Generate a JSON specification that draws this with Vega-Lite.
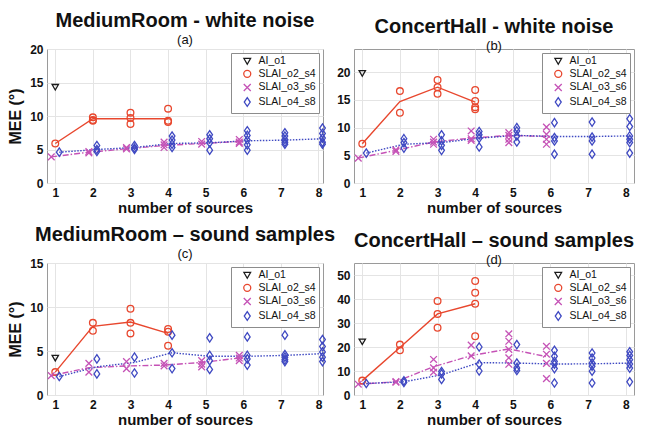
{
  "$schema": "https://vega.github.io/schema/vega-lite/v6.json",
  "background": "white",
  "padding": {"left": 7, "top": 10, "right": 5, "bottom": 2},
  "datasets": {
    "pts": [
      {"p":"a","s":"AI_o1","n":1,"v":14.3,"k":"pt"},
      {"p":"a","s":"SLAI_o2_s4","n":1,"v":5.9,"k":"pt"},
      {"p":"a","s":"SLAI_o2_s4","n":2,"v":9.8,"k":"pt"},
      {"p":"a","s":"SLAI_o2_s4","n":2,"v":9.4,"k":"pt"},
      {"p":"a","s":"SLAI_o2_s4","n":2,"v":9.3,"k":"pt"},
      {"p":"a","s":"SLAI_o2_s4","n":3,"v":10.5,"k":"pt"},
      {"p":"a","s":"SLAI_o2_s4","n":3,"v":9.7,"k":"pt"},
      {"p":"a","s":"SLAI_o2_s4","n":3,"v":8.8,"k":"pt"},
      {"p":"a","s":"SLAI_o2_s4","n":4,"v":11.1,"k":"pt"},
      {"p":"a","s":"SLAI_o2_s4","n":4,"v":9.3,"k":"pt"},
      {"p":"a","s":"SLAI_o2_s4","n":4,"v":9.1,"k":"pt"},
      {"p":"a","s":"SLAI_o2_s4","n":1,"v":5.9,"k":"mean"},
      {"p":"a","s":"SLAI_o2_s4","n":2,"v":9.6,"k":"mean"},
      {"p":"a","s":"SLAI_o2_s4","n":3,"v":9.6,"k":"mean"},
      {"p":"a","s":"SLAI_o2_s4","n":4,"v":9.6,"k":"mean"},
      {"p":"a","s":"SLAI_o3_s6","n":1,"v":3.9,"k":"pt"},
      {"p":"a","s":"SLAI_o3_s6","n":2,"v":4.7,"k":"pt"},
      {"p":"a","s":"SLAI_o3_s6","n":2,"v":4.5,"k":"pt"},
      {"p":"a","s":"SLAI_o3_s6","n":3,"v":5.3,"k":"pt"},
      {"p":"a","s":"SLAI_o3_s6","n":3,"v":5.1,"k":"pt"},
      {"p":"a","s":"SLAI_o3_s6","n":4,"v":6.1,"k":"pt"},
      {"p":"a","s":"SLAI_o3_s6","n":4,"v":5.7,"k":"pt"},
      {"p":"a","s":"SLAI_o3_s6","n":4,"v":5.3,"k":"pt"},
      {"p":"a","s":"SLAI_o3_s6","n":5,"v":6.2,"k":"pt"},
      {"p":"a","s":"SLAI_o3_s6","n":5,"v":5.8,"k":"pt"},
      {"p":"a","s":"SLAI_o3_s6","n":6,"v":6.5,"k":"pt"},
      {"p":"a","s":"SLAI_o3_s6","n":6,"v":6.1,"k":"pt"},
      {"p":"a","s":"SLAI_o3_s6","n":6,"v":5.9,"k":"pt"},
      {"p":"a","s":"SLAI_o3_s6","n":1,"v":3.9,"k":"mean"},
      {"p":"a","s":"SLAI_o3_s6","n":2,"v":4.6,"k":"mean"},
      {"p":"a","s":"SLAI_o3_s6","n":3,"v":5.1,"k":"mean"},
      {"p":"a","s":"SLAI_o3_s6","n":4,"v":5.6,"k":"mean"},
      {"p":"a","s":"SLAI_o3_s6","n":5,"v":5.9,"k":"mean"},
      {"p":"a","s":"SLAI_o3_s6","n":6,"v":6.2,"k":"mean"},
      {"p":"a","s":"SLAI_o4_s8","n":1,"v":4.6,"k":"pt"},
      {"p":"a","s":"SLAI_o4_s8","n":2,"v":5.6,"k":"pt"},
      {"p":"a","s":"SLAI_o4_s8","n":2,"v":5.0,"k":"pt"},
      {"p":"a","s":"SLAI_o4_s8","n":2,"v":4.7,"k":"pt"},
      {"p":"a","s":"SLAI_o4_s8","n":3,"v":5.6,"k":"pt"},
      {"p":"a","s":"SLAI_o4_s8","n":3,"v":5.2,"k":"pt"},
      {"p":"a","s":"SLAI_o4_s8","n":3,"v":5.0,"k":"pt"},
      {"p":"a","s":"SLAI_o4_s8","n":4,"v":7.0,"k":"pt"},
      {"p":"a","s":"SLAI_o4_s8","n":4,"v":6.4,"k":"pt"},
      {"p":"a","s":"SLAI_o4_s8","n":4,"v":5.8,"k":"pt"},
      {"p":"a","s":"SLAI_o4_s8","n":4,"v":5.3,"k":"pt"},
      {"p":"a","s":"SLAI_o4_s8","n":5,"v":7.2,"k":"pt"},
      {"p":"a","s":"SLAI_o4_s8","n":5,"v":6.6,"k":"pt"},
      {"p":"a","s":"SLAI_o4_s8","n":5,"v":6.0,"k":"pt"},
      {"p":"a","s":"SLAI_o4_s8","n":5,"v":4.9,"k":"pt"},
      {"p":"a","s":"SLAI_o4_s8","n":6,"v":7.8,"k":"pt"},
      {"p":"a","s":"SLAI_o4_s8","n":6,"v":7.1,"k":"pt"},
      {"p":"a","s":"SLAI_o4_s8","n":6,"v":6.4,"k":"pt"},
      {"p":"a","s":"SLAI_o4_s8","n":6,"v":5.7,"k":"pt"},
      {"p":"a","s":"SLAI_o4_s8","n":6,"v":4.9,"k":"pt"},
      {"p":"a","s":"SLAI_o4_s8","n":7,"v":7.5,"k":"pt"},
      {"p":"a","s":"SLAI_o4_s8","n":7,"v":7.0,"k":"pt"},
      {"p":"a","s":"SLAI_o4_s8","n":7,"v":6.5,"k":"pt"},
      {"p":"a","s":"SLAI_o4_s8","n":7,"v":6.1,"k":"pt"},
      {"p":"a","s":"SLAI_o4_s8","n":7,"v":5.8,"k":"pt"},
      {"p":"a","s":"SLAI_o4_s8","n":8,"v":8.2,"k":"pt"},
      {"p":"a","s":"SLAI_o4_s8","n":8,"v":7.4,"k":"pt"},
      {"p":"a","s":"SLAI_o4_s8","n":8,"v":6.7,"k":"pt"},
      {"p":"a","s":"SLAI_o4_s8","n":8,"v":6.1,"k":"pt"},
      {"p":"a","s":"SLAI_o4_s8","n":8,"v":5.8,"k":"pt"},
      {"p":"a","s":"SLAI_o4_s8","n":1,"v":4.6,"k":"mean"},
      {"p":"a","s":"SLAI_o4_s8","n":2,"v":5.0,"k":"mean"},
      {"p":"a","s":"SLAI_o4_s8","n":3,"v":5.3,"k":"mean"},
      {"p":"a","s":"SLAI_o4_s8","n":4,"v":5.9,"k":"mean"},
      {"p":"a","s":"SLAI_o4_s8","n":5,"v":6.0,"k":"mean"},
      {"p":"a","s":"SLAI_o4_s8","n":6,"v":6.3,"k":"mean"},
      {"p":"a","s":"SLAI_o4_s8","n":7,"v":6.4,"k":"mean"},
      {"p":"a","s":"SLAI_o4_s8","n":8,"v":6.6,"k":"mean"},

      {"p":"b","s":"AI_o1","n":1,"v":19.8,"k":"pt"},
      {"p":"b","s":"SLAI_o2_s4","n":1,"v":7.1,"k":"pt"},
      {"p":"b","s":"SLAI_o2_s4","n":2,"v":16.6,"k":"pt"},
      {"p":"b","s":"SLAI_o2_s4","n":2,"v":12.7,"k":"pt"},
      {"p":"b","s":"SLAI_o2_s4","n":3,"v":18.6,"k":"pt"},
      {"p":"b","s":"SLAI_o2_s4","n":3,"v":17.3,"k":"pt"},
      {"p":"b","s":"SLAI_o2_s4","n":3,"v":16.1,"k":"pt"},
      {"p":"b","s":"SLAI_o2_s4","n":4,"v":16.8,"k":"pt"},
      {"p":"b","s":"SLAI_o2_s4","n":4,"v":14.8,"k":"pt"},
      {"p":"b","s":"SLAI_o2_s4","n":4,"v":13.7,"k":"pt"},
      {"p":"b","s":"SLAI_o2_s4","n":4,"v":13.3,"k":"pt"},
      {"p":"b","s":"SLAI_o2_s4","n":1,"v":7.1,"k":"mean"},
      {"p":"b","s":"SLAI_o2_s4","n":2,"v":14.7,"k":"mean"},
      {"p":"b","s":"SLAI_o2_s4","n":3,"v":17.3,"k":"mean"},
      {"p":"b","s":"SLAI_o2_s4","n":4,"v":14.6,"k":"mean"},
      {"p":"b","s":"SLAI_o3_s6","n":1,"v":4.5,"k":"pt"},
      {"p":"b","s":"SLAI_o3_s6","n":2,"v":6.0,"k":"pt"},
      {"p":"b","s":"SLAI_o3_s6","n":2,"v":5.7,"k":"pt"},
      {"p":"b","s":"SLAI_o3_s6","n":3,"v":7.9,"k":"pt"},
      {"p":"b","s":"SLAI_o3_s6","n":3,"v":7.4,"k":"pt"},
      {"p":"b","s":"SLAI_o3_s6","n":3,"v":7.0,"k":"pt"},
      {"p":"b","s":"SLAI_o3_s6","n":4,"v":9.4,"k":"pt"},
      {"p":"b","s":"SLAI_o3_s6","n":4,"v":8.0,"k":"pt"},
      {"p":"b","s":"SLAI_o3_s6","n":4,"v":7.7,"k":"pt"},
      {"p":"b","s":"SLAI_o3_s6","n":5,"v":9.1,"k":"pt"},
      {"p":"b","s":"SLAI_o3_s6","n":5,"v":8.6,"k":"pt"},
      {"p":"b","s":"SLAI_o3_s6","n":5,"v":7.9,"k":"pt"},
      {"p":"b","s":"SLAI_o3_s6","n":5,"v":7.3,"k":"pt"},
      {"p":"b","s":"SLAI_o3_s6","n":6,"v":10.1,"k":"pt"},
      {"p":"b","s":"SLAI_o3_s6","n":6,"v":8.8,"k":"pt"},
      {"p":"b","s":"SLAI_o3_s6","n":6,"v":7.9,"k":"pt"},
      {"p":"b","s":"SLAI_o3_s6","n":6,"v":7.0,"k":"pt"},
      {"p":"b","s":"SLAI_o3_s6","n":1,"v":4.5,"k":"mean"},
      {"p":"b","s":"SLAI_o3_s6","n":2,"v":5.9,"k":"mean"},
      {"p":"b","s":"SLAI_o3_s6","n":3,"v":7.4,"k":"mean"},
      {"p":"b","s":"SLAI_o3_s6","n":4,"v":8.1,"k":"mean"},
      {"p":"b","s":"SLAI_o3_s6","n":5,"v":8.6,"k":"mean"},
      {"p":"b","s":"SLAI_o3_s6","n":6,"v":8.4,"k":"mean"},
      {"p":"b","s":"SLAI_o4_s8","n":1,"v":5.4,"k":"pt"},
      {"p":"b","s":"SLAI_o4_s8","n":2,"v":8.0,"k":"pt"},
      {"p":"b","s":"SLAI_o4_s8","n":2,"v":7.3,"k":"pt"},
      {"p":"b","s":"SLAI_o4_s8","n":2,"v":6.3,"k":"pt"},
      {"p":"b","s":"SLAI_o4_s8","n":3,"v":8.7,"k":"pt"},
      {"p":"b","s":"SLAI_o4_s8","n":3,"v":7.6,"k":"pt"},
      {"p":"b","s":"SLAI_o4_s8","n":3,"v":6.8,"k":"pt"},
      {"p":"b","s":"SLAI_o4_s8","n":3,"v":5.9,"k":"pt"},
      {"p":"b","s":"SLAI_o4_s8","n":4,"v":9.3,"k":"pt"},
      {"p":"b","s":"SLAI_o4_s8","n":4,"v":8.7,"k":"pt"},
      {"p":"b","s":"SLAI_o4_s8","n":4,"v":8.1,"k":"pt"},
      {"p":"b","s":"SLAI_o4_s8","n":4,"v":6.5,"k":"pt"},
      {"p":"b","s":"SLAI_o4_s8","n":5,"v":10.0,"k":"pt"},
      {"p":"b","s":"SLAI_o4_s8","n":5,"v":9.4,"k":"pt"},
      {"p":"b","s":"SLAI_o4_s8","n":5,"v":8.5,"k":"pt"},
      {"p":"b","s":"SLAI_o4_s8","n":5,"v":7.4,"k":"pt"},
      {"p":"b","s":"SLAI_o4_s8","n":6,"v":10.9,"k":"pt"},
      {"p":"b","s":"SLAI_o4_s8","n":6,"v":8.2,"k":"pt"},
      {"p":"b","s":"SLAI_o4_s8","n":6,"v":7.6,"k":"pt"},
      {"p":"b","s":"SLAI_o4_s8","n":6,"v":5.2,"k":"pt"},
      {"p":"b","s":"SLAI_o4_s8","n":7,"v":11.0,"k":"pt"},
      {"p":"b","s":"SLAI_o4_s8","n":7,"v":8.3,"k":"pt"},
      {"p":"b","s":"SLAI_o4_s8","n":7,"v":7.6,"k":"pt"},
      {"p":"b","s":"SLAI_o4_s8","n":7,"v":5.2,"k":"pt"},
      {"p":"b","s":"SLAI_o4_s8","n":8,"v":11.6,"k":"pt"},
      {"p":"b","s":"SLAI_o4_s8","n":8,"v":10.2,"k":"pt"},
      {"p":"b","s":"SLAI_o4_s8","n":8,"v":8.5,"k":"pt"},
      {"p":"b","s":"SLAI_o4_s8","n":8,"v":7.9,"k":"pt"},
      {"p":"b","s":"SLAI_o4_s8","n":8,"v":7.3,"k":"pt"},
      {"p":"b","s":"SLAI_o4_s8","n":8,"v":5.4,"k":"pt"},
      {"p":"b","s":"SLAI_o4_s8","n":1,"v":5.4,"k":"mean"},
      {"p":"b","s":"SLAI_o4_s8","n":2,"v":7.0,"k":"mean"},
      {"p":"b","s":"SLAI_o4_s8","n":3,"v":7.3,"k":"mean"},
      {"p":"b","s":"SLAI_o4_s8","n":4,"v":8.1,"k":"mean"},
      {"p":"b","s":"SLAI_o4_s8","n":5,"v":8.6,"k":"mean"},
      {"p":"b","s":"SLAI_o4_s8","n":6,"v":8.4,"k":"mean"},
      {"p":"b","s":"SLAI_o4_s8","n":7,"v":8.4,"k":"mean"},
      {"p":"b","s":"SLAI_o4_s8","n":8,"v":8.5,"k":"mean"},

      {"p":"c","s":"AI_o1","n":1,"v":4.2,"k":"pt"},
      {"p":"c","s":"SLAI_o2_s4","n":1,"v":2.6,"k":"pt"},
      {"p":"c","s":"SLAI_o2_s4","n":2,"v":8.2,"k":"pt"},
      {"p":"c","s":"SLAI_o2_s4","n":2,"v":7.3,"k":"pt"},
      {"p":"c","s":"SLAI_o2_s4","n":3,"v":9.8,"k":"pt"},
      {"p":"c","s":"SLAI_o2_s4","n":3,"v":8.2,"k":"pt"},
      {"p":"c","s":"SLAI_o2_s4","n":3,"v":7.0,"k":"pt"},
      {"p":"c","s":"SLAI_o2_s4","n":4,"v":7.5,"k":"pt"},
      {"p":"c","s":"SLAI_o2_s4","n":4,"v":7.2,"k":"pt"},
      {"p":"c","s":"SLAI_o2_s4","n":4,"v":5.6,"k":"pt"},
      {"p":"c","s":"SLAI_o2_s4","n":1,"v":2.6,"k":"mean"},
      {"p":"c","s":"SLAI_o2_s4","n":2,"v":7.8,"k":"mean"},
      {"p":"c","s":"SLAI_o2_s4","n":3,"v":8.3,"k":"mean"},
      {"p":"c","s":"SLAI_o2_s4","n":4,"v":7.0,"k":"mean"},
      {"p":"c","s":"SLAI_o3_s6","n":1,"v":2.2,"k":"pt"},
      {"p":"c","s":"SLAI_o3_s6","n":2,"v":3.6,"k":"pt"},
      {"p":"c","s":"SLAI_o3_s6","n":2,"v":2.6,"k":"pt"},
      {"p":"c","s":"SLAI_o3_s6","n":3,"v":3.8,"k":"pt"},
      {"p":"c","s":"SLAI_o3_s6","n":3,"v":3.0,"k":"pt"},
      {"p":"c","s":"SLAI_o3_s6","n":4,"v":3.6,"k":"pt"},
      {"p":"c","s":"SLAI_o3_s6","n":4,"v":3.3,"k":"pt"},
      {"p":"c","s":"SLAI_o3_s6","n":5,"v":3.9,"k":"pt"},
      {"p":"c","s":"SLAI_o3_s6","n":5,"v":3.5,"k":"pt"},
      {"p":"c","s":"SLAI_o3_s6","n":5,"v":3.2,"k":"pt"},
      {"p":"c","s":"SLAI_o3_s6","n":6,"v":4.5,"k":"pt"},
      {"p":"c","s":"SLAI_o3_s6","n":6,"v":4.2,"k":"pt"},
      {"p":"c","s":"SLAI_o3_s6","n":6,"v":3.9,"k":"pt"},
      {"p":"c","s":"SLAI_o3_s6","n":1,"v":2.2,"k":"mean"},
      {"p":"c","s":"SLAI_o3_s6","n":2,"v":3.1,"k":"mean"},
      {"p":"c","s":"SLAI_o3_s6","n":3,"v":3.3,"k":"mean"},
      {"p":"c","s":"SLAI_o3_s6","n":4,"v":3.4,"k":"mean"},
      {"p":"c","s":"SLAI_o3_s6","n":5,"v":3.7,"k":"mean"},
      {"p":"c","s":"SLAI_o3_s6","n":6,"v":4.2,"k":"mean"},
      {"p":"c","s":"SLAI_o4_s8","n":1,"v":2.1,"k":"pt"},
      {"p":"c","s":"SLAI_o4_s8","n":2,"v":4.1,"k":"pt"},
      {"p":"c","s":"SLAI_o4_s8","n":2,"v":2.4,"k":"pt"},
      {"p":"c","s":"SLAI_o4_s8","n":3,"v":4.3,"k":"pt"},
      {"p":"c","s":"SLAI_o4_s8","n":3,"v":2.5,"k":"pt"},
      {"p":"c","s":"SLAI_o4_s8","n":4,"v":6.8,"k":"pt"},
      {"p":"c","s":"SLAI_o4_s8","n":4,"v":4.8,"k":"pt"},
      {"p":"c","s":"SLAI_o4_s8","n":4,"v":3.0,"k":"pt"},
      {"p":"c","s":"SLAI_o4_s8","n":5,"v":6.5,"k":"pt"},
      {"p":"c","s":"SLAI_o4_s8","n":5,"v":4.5,"k":"pt"},
      {"p":"c","s":"SLAI_o4_s8","n":5,"v":3.9,"k":"pt"},
      {"p":"c","s":"SLAI_o4_s8","n":5,"v":2.9,"k":"pt"},
      {"p":"c","s":"SLAI_o4_s8","n":6,"v":6.6,"k":"pt"},
      {"p":"c","s":"SLAI_o4_s8","n":6,"v":4.5,"k":"pt"},
      {"p":"c","s":"SLAI_o4_s8","n":6,"v":4.1,"k":"pt"},
      {"p":"c","s":"SLAI_o4_s8","n":6,"v":3.4,"k":"pt"},
      {"p":"c","s":"SLAI_o4_s8","n":7,"v":6.8,"k":"pt"},
      {"p":"c","s":"SLAI_o4_s8","n":7,"v":4.6,"k":"pt"},
      {"p":"c","s":"SLAI_o4_s8","n":7,"v":4.3,"k":"pt"},
      {"p":"c","s":"SLAI_o4_s8","n":7,"v":4.0,"k":"pt"},
      {"p":"c","s":"SLAI_o4_s8","n":7,"v":3.8,"k":"pt"},
      {"p":"c","s":"SLAI_o4_s8","n":8,"v":6.3,"k":"pt"},
      {"p":"c","s":"SLAI_o4_s8","n":8,"v":5.5,"k":"pt"},
      {"p":"c","s":"SLAI_o4_s8","n":8,"v":4.9,"k":"pt"},
      {"p":"c","s":"SLAI_o4_s8","n":8,"v":4.3,"k":"pt"},
      {"p":"c","s":"SLAI_o4_s8","n":8,"v":3.8,"k":"pt"},
      {"p":"c","s":"SLAI_o4_s8","n":1,"v":2.1,"k":"mean"},
      {"p":"c","s":"SLAI_o4_s8","n":2,"v":3.2,"k":"mean"},
      {"p":"c","s":"SLAI_o4_s8","n":3,"v":3.7,"k":"mean"},
      {"p":"c","s":"SLAI_o4_s8","n":4,"v":4.8,"k":"mean"},
      {"p":"c","s":"SLAI_o4_s8","n":5,"v":4.4,"k":"mean"},
      {"p":"c","s":"SLAI_o4_s8","n":6,"v":4.4,"k":"mean"},
      {"p":"c","s":"SLAI_o4_s8","n":7,"v":4.5,"k":"mean"},
      {"p":"c","s":"SLAI_o4_s8","n":8,"v":4.7,"k":"mean"},

      {"p":"d","s":"AI_o1","n":1,"v":22.2,"k":"pt"},
      {"p":"d","s":"SLAI_o2_s4","n":1,"v":6.0,"k":"pt"},
      {"p":"d","s":"SLAI_o2_s4","n":2,"v":21.0,"k":"pt"},
      {"p":"d","s":"SLAI_o2_s4","n":2,"v":18.6,"k":"pt"},
      {"p":"d","s":"SLAI_o2_s4","n":3,"v":39.2,"k":"pt"},
      {"p":"d","s":"SLAI_o2_s4","n":3,"v":33.8,"k":"pt"},
      {"p":"d","s":"SLAI_o2_s4","n":3,"v":28.0,"k":"pt"},
      {"p":"d","s":"SLAI_o2_s4","n":4,"v":47.5,"k":"pt"},
      {"p":"d","s":"SLAI_o2_s4","n":4,"v":42.6,"k":"pt"},
      {"p":"d","s":"SLAI_o2_s4","n":4,"v":38.0,"k":"pt"},
      {"p":"d","s":"SLAI_o2_s4","n":4,"v":24.5,"k":"pt"},
      {"p":"d","s":"SLAI_o2_s4","n":1,"v":6.0,"k":"mean"},
      {"p":"d","s":"SLAI_o2_s4","n":2,"v":19.8,"k":"mean"},
      {"p":"d","s":"SLAI_o2_s4","n":3,"v":33.8,"k":"mean"},
      {"p":"d","s":"SLAI_o2_s4","n":4,"v":38.0,"k":"mean"},
      {"p":"d","s":"SLAI_o3_s6","n":1,"v":4.5,"k":"pt"},
      {"p":"d","s":"SLAI_o3_s6","n":2,"v":5.6,"k":"pt"},
      {"p":"d","s":"SLAI_o3_s6","n":2,"v":5.3,"k":"pt"},
      {"p":"d","s":"SLAI_o3_s6","n":3,"v":14.8,"k":"pt"},
      {"p":"d","s":"SLAI_o3_s6","n":3,"v":11.3,"k":"pt"},
      {"p":"d","s":"SLAI_o3_s6","n":3,"v":9.5,"k":"pt"},
      {"p":"d","s":"SLAI_o3_s6","n":4,"v":20.8,"k":"pt"},
      {"p":"d","s":"SLAI_o3_s6","n":4,"v":16.3,"k":"pt"},
      {"p":"d","s":"SLAI_o3_s6","n":5,"v":25.5,"k":"pt"},
      {"p":"d","s":"SLAI_o3_s6","n":5,"v":22.4,"k":"pt"},
      {"p":"d","s":"SLAI_o3_s6","n":5,"v":19.0,"k":"pt"},
      {"p":"d","s":"SLAI_o3_s6","n":5,"v":15.5,"k":"pt"},
      {"p":"d","s":"SLAI_o3_s6","n":5,"v":12.8,"k":"pt"},
      {"p":"d","s":"SLAI_o3_s6","n":6,"v":20.3,"k":"pt"},
      {"p":"d","s":"SLAI_o3_s6","n":6,"v":17.0,"k":"pt"},
      {"p":"d","s":"SLAI_o3_s6","n":6,"v":13.2,"k":"pt"},
      {"p":"d","s":"SLAI_o3_s6","n":6,"v":6.8,"k":"pt"},
      {"p":"d","s":"SLAI_o3_s6","n":1,"v":4.5,"k":"mean"},
      {"p":"d","s":"SLAI_o3_s6","n":2,"v":5.5,"k":"mean"},
      {"p":"d","s":"SLAI_o3_s6","n":3,"v":11.8,"k":"mean"},
      {"p":"d","s":"SLAI_o3_s6","n":4,"v":16.4,"k":"mean"},
      {"p":"d","s":"SLAI_o3_s6","n":5,"v":19.2,"k":"mean"},
      {"p":"d","s":"SLAI_o3_s6","n":6,"v":16.0,"k":"mean"},
      {"p":"d","s":"SLAI_o4_s8","n":1,"v":4.8,"k":"pt"},
      {"p":"d","s":"SLAI_o4_s8","n":2,"v":5.9,"k":"pt"},
      {"p":"d","s":"SLAI_o4_s8","n":2,"v":5.2,"k":"pt"},
      {"p":"d","s":"SLAI_o4_s8","n":3,"v":9.8,"k":"pt"},
      {"p":"d","s":"SLAI_o4_s8","n":3,"v":8.8,"k":"pt"},
      {"p":"d","s":"SLAI_o4_s8","n":3,"v":6.5,"k":"pt"},
      {"p":"d","s":"SLAI_o4_s8","n":4,"v":20.0,"k":"pt"},
      {"p":"d","s":"SLAI_o4_s8","n":4,"v":12.9,"k":"pt"},
      {"p":"d","s":"SLAI_o4_s8","n":4,"v":10.0,"k":"pt"},
      {"p":"d","s":"SLAI_o4_s8","n":5,"v":21.0,"k":"pt"},
      {"p":"d","s":"SLAI_o4_s8","n":5,"v":13.3,"k":"pt"},
      {"p":"d","s":"SLAI_o4_s8","n":5,"v":11.3,"k":"pt"},
      {"p":"d","s":"SLAI_o4_s8","n":5,"v":10.2,"k":"pt"},
      {"p":"d","s":"SLAI_o4_s8","n":6,"v":18.6,"k":"pt"},
      {"p":"d","s":"SLAI_o4_s8","n":6,"v":16.1,"k":"pt"},
      {"p":"d","s":"SLAI_o4_s8","n":6,"v":14.0,"k":"pt"},
      {"p":"d","s":"SLAI_o4_s8","n":6,"v":12.9,"k":"pt"},
      {"p":"d","s":"SLAI_o4_s8","n":6,"v":11.0,"k":"pt"},
      {"p":"d","s":"SLAI_o4_s8","n":6,"v":5.0,"k":"pt"},
      {"p":"d","s":"SLAI_o4_s8","n":7,"v":17.5,"k":"pt"},
      {"p":"d","s":"SLAI_o4_s8","n":7,"v":15.4,"k":"pt"},
      {"p":"d","s":"SLAI_o4_s8","n":7,"v":13.3,"k":"pt"},
      {"p":"d","s":"SLAI_o4_s8","n":7,"v":12.0,"k":"pt"},
      {"p":"d","s":"SLAI_o4_s8","n":7,"v":9.9,"k":"pt"},
      {"p":"d","s":"SLAI_o4_s8","n":7,"v":5.0,"k":"pt"},
      {"p":"d","s":"SLAI_o4_s8","n":8,"v":18.0,"k":"pt"},
      {"p":"d","s":"SLAI_o4_s8","n":8,"v":16.5,"k":"pt"},
      {"p":"d","s":"SLAI_o4_s8","n":8,"v":14.7,"k":"pt"},
      {"p":"d","s":"SLAI_o4_s8","n":8,"v":12.9,"k":"pt"},
      {"p":"d","s":"SLAI_o4_s8","n":8,"v":11.2,"k":"pt"},
      {"p":"d","s":"SLAI_o4_s8","n":8,"v":5.5,"k":"pt"},
      {"p":"d","s":"SLAI_o4_s8","n":1,"v":4.8,"k":"mean"},
      {"p":"d","s":"SLAI_o4_s8","n":2,"v":5.5,"k":"mean"},
      {"p":"d","s":"SLAI_o4_s8","n":3,"v":8.4,"k":"mean"},
      {"p":"d","s":"SLAI_o4_s8","n":4,"v":13.5,"k":"mean"},
      {"p":"d","s":"SLAI_o4_s8","n":5,"v":13.3,"k":"mean"},
      {"p":"d","s":"SLAI_o4_s8","n":6,"v":12.9,"k":"mean"},
      {"p":"d","s":"SLAI_o4_s8","n":7,"v":13.0,"k":"mean"},
      {"p":"d","s":"SLAI_o4_s8","n":8,"v":13.3,"k":"mean"}
    ]
  },
  "data": {"name": "pts"},
  "bounds": "flush",
  "spacing": 214,
  "resolve": {
    "scale": {"x": "independent", "y": "independent", "color": "independent", "shape": "independent"},
    "legend": {"color": "independent", "shape": "independent"}
  },
  "vconcat": [
    {
      "bounds": "flush",
      "spacing": 31,
      "resolve": {
        "scale": {"x": "independent", "y": "independent", "color": "independent", "shape": "independent"},
        "legend": {"color": "independent", "shape": "independent"}
      },
      "hconcat": [
        {
          "width": 276, "height": 134,
          "title": {"text": "MediumRoom - white noise", "subtitle": "(a)"},
          "transform": [{"filter": "datum.p == 'a'"}],
          "encoding": {
            "x": {"field": "n", "type": "quantitative", "scale": {"domain": [0.78, 8.12], "nice": false, "zero": false}, "axis": {"values": [1,2,3,4,5,6,7,8], "title": "number of sources"}},
            "y": {"field": "v", "type": "quantitative", "scale": {"domain": [0, 20], "nice": false}, "axis": {"values": [0,5,10,15,20], "title": "MEE (°)"}},
            "color": {"field": "s", "type": "nominal", "scale": {"domain": ["AI_o1","SLAI_o2_s4","SLAI_o3_s6","SLAI_o4_s8"], "range": ["#1a1a1a","#e8472e","#c552b6","#3f49c2"]}, "legend": {"title": null}}
          },
          "layer": [
            {"transform": [{"filter": "datum.k == 'mean' && datum.s == 'SLAI_o2_s4'"}], "mark": {"type": "line", "strokeWidth": 1.4}, "encoding": {}},
            {"transform": [{"filter": "datum.k == 'mean' && datum.s == 'SLAI_o3_s6'"}], "mark": {"type": "line", "strokeWidth": 1.4, "strokeDash": [6,2,1.5,2], "xOffset": -4}, "encoding": {}},
            {"transform": [{"filter": "datum.k == 'mean' && datum.s == 'SLAI_o4_s8'"}], "mark": {"type": "line", "strokeWidth": 1.4, "strokeDash": [1.5,1.5], "xOffset": 4}, "encoding": {}},
            {"transform": [{"filter": "datum.k == 'pt'"}],
             "mark": {"type": "point", "filled": false, "strokeWidth": 1.3, "size": 45, "opacity": 1, "xOffset": {"expr": "datum.s == 'SLAI_o3_s6' ? -4 : datum.s == 'SLAI_o4_s8' ? 4 : 0"}},
             "encoding": {"shape": {"field": "s", "type": "nominal", "scale": {"domain": ["AI_o1","SLAI_o2_s4","SLAI_o3_s6","SLAI_o4_s8"], "range": ["M-0.95,-0.8L0.95,-0.8L0,0.85Z","circle","M-1,-1L1,1M-1,1L1,-1","M0,-1.25L0.85,0L0,1.25L-0.85,0Z"]}, "legend": {"title": null}}}}
          ]
        },
        {
          "width": 280, "height": 134,
          "title": {"text": "ConcertHall - white noise", "subtitle": "(b)"},
          "transform": [{"filter": "datum.p == 'b'"}],
          "encoding": {
            "x": {"field": "n", "type": "quantitative", "scale": {"domain": [0.78, 8.22], "nice": false, "zero": false}, "axis": {"values": [1,2,3,4,5,6,7,8], "title": "number of sources"}},
            "y": {"field": "v", "type": "quantitative", "scale": {"domain": [0, 24.2], "nice": false}, "axis": {"values": [0,5,10,15,20], "title": null}},
            "color": {"field": "s", "type": "nominal", "scale": {"domain": ["AI_o1","SLAI_o2_s4","SLAI_o3_s6","SLAI_o4_s8"], "range": ["#1a1a1a","#e8472e","#c552b6","#3f49c2"]}, "legend": {"title": null}}
          },
          "layer": [
            {"transform": [{"filter": "datum.k == 'mean' && datum.s == 'SLAI_o2_s4'"}], "mark": {"type": "line", "strokeWidth": 1.4}, "encoding": {}},
            {"transform": [{"filter": "datum.k == 'mean' && datum.s == 'SLAI_o3_s6'"}], "mark": {"type": "line", "strokeWidth": 1.4, "strokeDash": [6,2,1.5,2], "xOffset": -4}, "encoding": {}},
            {"transform": [{"filter": "datum.k == 'mean' && datum.s == 'SLAI_o4_s8'"}], "mark": {"type": "line", "strokeWidth": 1.4, "strokeDash": [1.5,1.5], "xOffset": 4}, "encoding": {}},
            {"transform": [{"filter": "datum.k == 'pt'"}],
             "mark": {"type": "point", "filled": false, "strokeWidth": 1.3, "size": 45, "opacity": 1, "xOffset": {"expr": "datum.s == 'SLAI_o3_s6' ? -4 : datum.s == 'SLAI_o4_s8' ? 4 : 0"}},
             "encoding": {"shape": {"field": "s", "type": "nominal", "scale": {"domain": ["AI_o1","SLAI_o2_s4","SLAI_o3_s6","SLAI_o4_s8"], "range": ["M-0.95,-0.8L0.95,-0.8L0,0.85Z","circle","M-1,-1L1,1M-1,1L1,-1","M0,-1.25L0.85,0L0,1.25L-0.85,0Z"]}, "legend": {"title": null}}}}
          ]
        }
      ]
    },
    {
      "bounds": "flush",
      "spacing": 31,
      "resolve": {
        "scale": {"x": "independent", "y": "independent", "color": "independent", "shape": "independent"},
        "legend": {"color": "independent", "shape": "independent"}
      },
      "hconcat": [
        {
          "width": 276, "height": 132,
          "title": {"text": "MediumRoom – sound samples", "subtitle": "(c)"},
          "transform": [{"filter": "datum.p == 'c'"}],
          "encoding": {
            "x": {"field": "n", "type": "quantitative", "scale": {"domain": [0.78, 8.12], "nice": false, "zero": false}, "axis": {"values": [1,2,3,4,5,6,7,8], "title": "number of sources"}},
            "y": {"field": "v", "type": "quantitative", "scale": {"domain": [0, 15], "nice": false}, "axis": {"values": [0,5,10,15], "title": "MEE (°)"}},
            "color": {"field": "s", "type": "nominal", "scale": {"domain": ["AI_o1","SLAI_o2_s4","SLAI_o3_s6","SLAI_o4_s8"], "range": ["#1a1a1a","#e8472e","#c552b6","#3f49c2"]}, "legend": {"title": null}}
          },
          "layer": [
            {"transform": [{"filter": "datum.k == 'mean' && datum.s == 'SLAI_o2_s4'"}], "mark": {"type": "line", "strokeWidth": 1.4}, "encoding": {}},
            {"transform": [{"filter": "datum.k == 'mean' && datum.s == 'SLAI_o3_s6'"}], "mark": {"type": "line", "strokeWidth": 1.4, "strokeDash": [6,2,1.5,2], "xOffset": -4}, "encoding": {}},
            {"transform": [{"filter": "datum.k == 'mean' && datum.s == 'SLAI_o4_s8'"}], "mark": {"type": "line", "strokeWidth": 1.4, "strokeDash": [1.5,1.5], "xOffset": 4}, "encoding": {}},
            {"transform": [{"filter": "datum.k == 'pt'"}],
             "mark": {"type": "point", "filled": false, "strokeWidth": 1.3, "size": 45, "opacity": 1, "xOffset": {"expr": "datum.s == 'SLAI_o3_s6' ? -4 : datum.s == 'SLAI_o4_s8' ? 4 : 0"}},
             "encoding": {"shape": {"field": "s", "type": "nominal", "scale": {"domain": ["AI_o1","SLAI_o2_s4","SLAI_o3_s6","SLAI_o4_s8"], "range": ["M-0.95,-0.8L0.95,-0.8L0,0.85Z","circle","M-1,-1L1,1M-1,1L1,-1","M0,-1.25L0.85,0L0,1.25L-0.85,0Z"]}, "legend": {"title": null}}}}
          ]
        },
        {
          "width": 280, "height": 132,
          "title": {"text": "ConcertHall – sound samples", "subtitle": "(d)"},
          "transform": [{"filter": "datum.p == 'd'"}],
          "encoding": {
            "x": {"field": "n", "type": "quantitative", "scale": {"domain": [0.78, 8.22], "nice": false, "zero": false}, "axis": {"values": [1,2,3,4,5,6,7,8], "title": "number of sources"}},
            "y": {"field": "v", "type": "quantitative", "scale": {"domain": [0, 55], "nice": false}, "axis": {"values": [0,10,20,30,40,50], "title": null}},
            "color": {"field": "s", "type": "nominal", "scale": {"domain": ["AI_o1","SLAI_o2_s4","SLAI_o3_s6","SLAI_o4_s8"], "range": ["#1a1a1a","#e8472e","#c552b6","#3f49c2"]}, "legend": {"title": null}}
          },
          "layer": [
            {"transform": [{"filter": "datum.k == 'mean' && datum.s == 'SLAI_o2_s4'"}], "mark": {"type": "line", "strokeWidth": 1.4}, "encoding": {}},
            {"transform": [{"filter": "datum.k == 'mean' && datum.s == 'SLAI_o3_s6'"}], "mark": {"type": "line", "strokeWidth": 1.4, "strokeDash": [6,2,1.5,2], "xOffset": -4}, "encoding": {}},
            {"transform": [{"filter": "datum.k == 'mean' && datum.s == 'SLAI_o4_s8'"}], "mark": {"type": "line", "strokeWidth": 1.4, "strokeDash": [1.5,1.5], "xOffset": 4}, "encoding": {}},
            {"transform": [{"filter": "datum.k == 'pt'"}],
             "mark": {"type": "point", "filled": false, "strokeWidth": 1.3, "size": 45, "opacity": 1, "xOffset": {"expr": "datum.s == 'SLAI_o3_s6' ? -4 : datum.s == 'SLAI_o4_s8' ? 4 : 0"}},
             "encoding": {"shape": {"field": "s", "type": "nominal", "scale": {"domain": ["AI_o1","SLAI_o2_s4","SLAI_o3_s6","SLAI_o4_s8"], "range": ["M-0.95,-0.8L0.95,-0.8L0,0.85Z","circle","M-1,-1L1,1M-1,1L1,-1","M0,-1.25L0.85,0L0,1.25L-0.85,0Z"]}, "legend": {"title": null}}}}
          ]
        }
      ]
    }
  ],
  "config": {
    "font": "Liberation Sans",
    "view": {"stroke": "#9a9a9a", "strokeWidth": 1},
    "axis": {"domain": false, "grid": true, "gridColor": "#e4e4e4", "gridWidth": 1, "ticks": false,
      "labelFont": "Liberation Sans", "labelFontWeight": "bold", "labelFontSize": 12, "labelColor": "#111", "labelPadding": 4,
      "titleFont": "Liberation Sans", "titleFontWeight": "bold", "titleFontSize": 15, "titleColor": "#111"},
    "axisX": {"titlePadding": 2, "labelPadding": 4},
    "axisY": {"titleFontSize": 16, "titlePadding": 6},
    "legend": {"orient": "top-right", "offset": 4, "padding": 3, "fillColor": "white", "strokeColor": "#8c8c8c", "strokeWidth": 1,
      "labelFont": "Liberation Sans", "labelFontSize": 10.5, "labelColor": "#111", "symbolSize": 49, "symbolStrokeWidth": 1.3,
      "rowPadding": 0.6, "labelOffset": 6, "symbolOffset": 8},
    "title": {"font": "Liberation Sans", "fontSize": 20, "fontWeight": "bold", "color": "#111",
      "subtitleFont": "Liberation Sans", "subtitleFontSize": 13, "subtitleColor": "#111", "subtitlePadding": 2.5,
      "offset": -3.5, "frame": "group", "anchor": "middle"}
  }
}
